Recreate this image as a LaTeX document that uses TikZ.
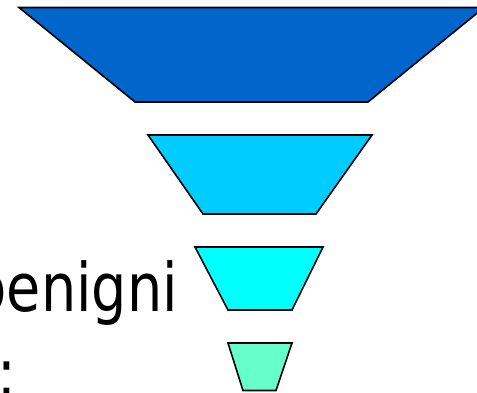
\documentclass[tikz,border=0pt]{standalone}
\usepackage{fontspec}
\setmainfont{DejaVu Sans}
\definecolor{lvA}{HTML}{0066CC}
\definecolor{lvB}{HTML}{00CCFF}
\definecolor{lvC}{HTML}{00FFFF}
\definecolor{lvD}{HTML}{66FFCC}
\begin{document}
\begin{tikzpicture}[x=1pt,y=-1pt,
  level/.style={draw=black,line width=1.6pt,line join=miter},
  bigtext/.style={font=\fontsize{67}{80}\selectfont,inner sep=0pt}]
\useasboundingbox (0,0) rectangle (477,393);
\clip (0,0) rectangle (477,393);
\fill[white] (0,0) rectangle (477,393);
% funnel levels
\draw[level,fill=lvA] (19,7.5) -- (484,7.5) -- (368,102) -- (135,102) -- cycle;
\draw[level,fill=lvB] (148,135) -- (372,135) -- (316,214) -- (203,214) -- cycle;
\draw[level,fill=lvC] (195,247) -- (323,247) -- (292,310) -- (228,310) -- cycle;
\draw[level,fill=lvD] (228,343) -- (292,343) -- (276,390.5) -- (243,390.5) -- cycle;
% texts
\node[bigtext,anchor=base east] (t1) at (178,311.7) {\scalebox{0.83}[1]{benigni}};
\node[bigtext,anchor=base west] (t2) at (-2.6,396) {\scalebox{0.83}[1]{:}};
\end{tikzpicture}
\end{document}
